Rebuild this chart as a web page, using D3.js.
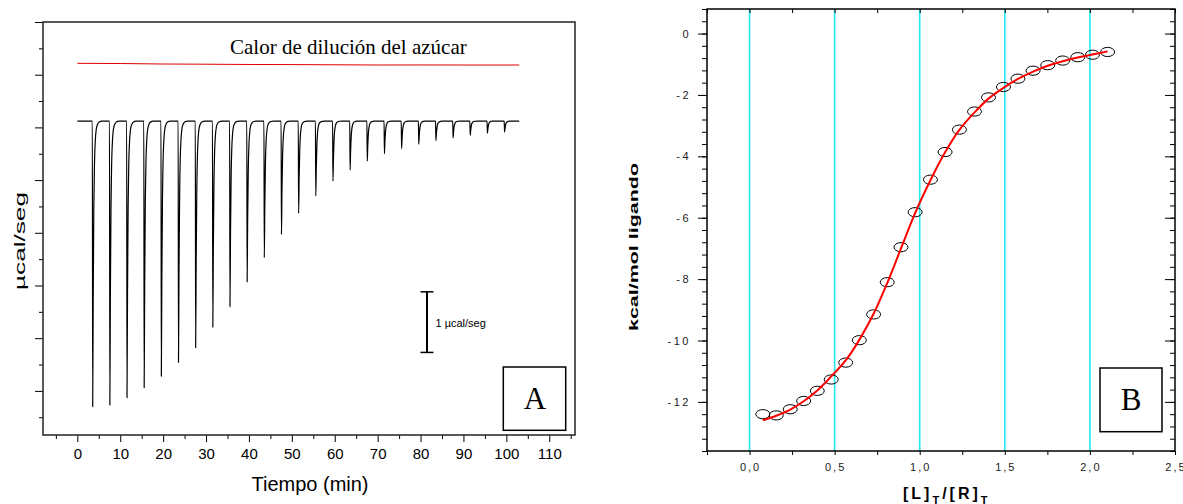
<!DOCTYPE html>
<html>
<head>
<meta charset="utf-8">
<script src="https://cdn.jsdelivr.net/npm/d3@7"></script>
<style>
  body { margin: 0; background: #fff; }
  svg { display: block; font-family: "Liberation Sans", Arial, sans-serif; }
  .axis path { display: none; }
  .axis line { stroke: #000; }
</style>
</head>
<body>
<div id="chart"></div>
<script>
// ---- Panel A data (ITC raw trace) ----
const injectionTimes = [3.5, 7.5, 11.5, 15.5, 19.5, 23.5, 27.5, 31.5, 35.5, 39.5, 43.5, 47.5,
  51.5, 55.5, 59.5, 63.5, 67.5, 71.5, 75.5, 79.5, 83.5, 87.5, 91.5, 95.5, 99.5];
const peakMin = [-5.30, -5.27, -5.13, -4.94, -4.72, -4.46, -4.18, -3.79, -3.40, -2.93, -2.47, -2.03,
  -1.63, -1.30, -1.02, -0.81, -0.64, -0.50, -0.40, -0.32, -0.25, -0.20, -0.15, -0.11, -0.09];
const baseline = 0.12;
const traceStart = 0, traceEnd = 103;
// shape of one injection peak: [minutes after injection, fraction of peak depth]
const peakShape = [[0, 0], [0.08, 1], [0.2, 0.62], [0.35, 0.3], [0.5, 0.15], [0.7, 0.066],
  [0.9, 0.03], [1.2, 0.012], [1.6, 0.003], [2.2, 0]];
// dilution reference trace (red)
const dilutionT = [0, 10, 20, 30, 40, 50, 60, 70, 80, 90, 103];
const dilutionV = [1.216, 1.212, 1.203, 1.199, 1.194, 1.192, 1.188, 1.184, 1.185, 1.184, 1.184];
const scaleBar = [-3.12, -4.27];

// ---- Panel B data (binding isotherm) ----
const ratio = [0.078, 0.157, 0.239, 0.318, 0.398, 0.480, 0.565, 0.645, 0.729, 0.809, 0.890, 0.973,
  1.063, 1.149, 1.233, 1.322, 1.404, 1.492, 1.577, 1.666, 1.752, 1.840, 1.929, 2.015, 2.104];
const heat = [-12.40, -12.44, -12.24, -11.97, -11.64, -11.27, -10.72, -9.99, -9.15, -8.10, -6.96, -5.82,
  -4.76, -3.86, -3.13, -2.54, -2.08, -1.74, -1.47, -1.21, -1.03, -0.88, -0.77, -0.69, -0.60];
const fit = [-12.60, -12.45, -12.25, -11.98, -11.63, -11.17, -10.65, -9.98, -9.13, -8.13, -7.00, -5.85,
  -4.78, -3.87, -3.14, -2.57, -2.12, -1.77, -1.48, -1.24, -1.05, -0.90, -0.78, -0.68, -0.58];
const xTicksB = [0, 0.5, 1, 1.5, 2, 2.5];
const yTicksB = [-12, -10, -8, -6, -4, -2, 0];

const svg = d3.select("#chart").append("svg")
  .attr("width", 1183).attr("height", 504);

// ================= Panel A =================
const xA = d3.scaleLinear().domain([-8, 116]).range([43, 575]);
const yA = d3.scaleLinear().domain([-5.837, 2]).range([435, 22]);

const a = svg.append("g");

// axes ticks
const xMajA = d3.range(0, 111, 10);
const xMinA = d3.range(-5, 116, 10);
a.append("g").attr("class", "axis").attr("transform", "translate(0,435)")
  .call(d3.axisBottom(xA).tickValues(xMinA).tickSize(4).tickFormat(""));
a.append("g").attr("class", "axis").attr("transform", "translate(0,435)")
  .call(d3.axisBottom(xA).tickValues(xMajA).tickSize(7).tickPadding(6).tickFormat(d3.format("d")))
  .selectAll("text").attr("font-size", 15).attr("fill", "#000");

const yMajA = d3.range(-5, 2.01, 1);
const yMinA = d3.range(-5.5, 2, 1);
a.append("g").attr("class", "axis").attr("transform", "translate(43,0)")
  .call(d3.axisLeft(yA).tickValues(yMajA).tickSize(8).tickFormat(""));
a.append("g").attr("class", "axis").attr("transform", "translate(43,0)")
  .call(d3.axisLeft(yA).tickValues(yMinA).tickSize(4).tickFormat(""));

a.append("rect").attr("x", 43).attr("y", 22).attr("width", 532).attr("height", 413)
  .attr("fill", "none").attr("stroke", "#222").attr("stroke-width", 1.5);

// build injection trace from peak list
const trace = [[traceStart, baseline]];
injectionTimes.forEach((t0, i) => {
  peakShape.forEach(([dt, f]) => trace.push([t0 + dt, baseline + (peakMin[i] - baseline) * f]));
});
trace.push([traceEnd, baseline]);

const lineA = d3.line().x(d => xA(d[0])).y(d => yA(d[1])).curve(d3.curveMonotoneX);
a.append("path").datum(trace).attr("d", lineA)
  .attr("fill", "none").attr("stroke", "#000").attr("stroke-width", 1.2);

a.append("path").datum(dilutionT.map((t, i) => [t, dilutionV[i]])).attr("d", lineA)
  .attr("fill", "none").attr("stroke", "#e00000").attr("stroke-width", 1);

a.append("text").attr("x", 230).attr("y", 54.3)
  .attr("font-family", "'Liberation Serif', 'Times New Roman', serif").attr("font-size", 21)
  .text("Calor de dilución del azúcar");

// scale bar
const sbX = xA(81.5);
a.append("line").attr("x1", sbX).attr("x2", sbX).attr("y1", yA(scaleBar[0])).attr("y2", yA(scaleBar[1]))
  .attr("stroke", "#000").attr("stroke-width", 2);
scaleBar.forEach(v => a.append("line").attr("x1", sbX - 6.5).attr("x2", sbX + 6.5)
  .attr("y1", yA(v)).attr("y2", yA(v)).attr("stroke", "#000").attr("stroke-width", 1.5));
a.append("text").attr("x", sbX + 8.5).attr("y", 327).attr("font-size", 11).text("1 µcal/seg");

a.append("rect").attr("x", 503.3).attr("y", 367).attr("width", 62.4).attr("height", 63.3)
  .attr("fill", "none").attr("stroke", "#000").attr("stroke-width", 1.5);
a.append("text").attr("x", 535).attr("y", 409).attr("text-anchor", "middle")
  .attr("font-family", "'Liberation Serif', 'Times New Roman', serif").attr("font-size", 31).text("A");

a.append("text").attr("x", 310).attr("y", 491).attr("text-anchor", "middle")
  .attr("font-size", 20).text("Tiempo (min)");
a.append("text").attr("transform", "translate(25,241) rotate(-90)").attr("text-anchor", "middle")
  .attr("font-size", 14).attr("textLength", 98).attr("lengthAdjust", "spacingAndGlyphs")
  .text("µcal/seg");

// ================= Panel B =================
const xB = d3.scaleLinear().domain([-0.25, 2.5]).range([707, 1175]);
const yB = d3.scaleLinear().domain([-13.6, 0.8]).range([451, 9]);
const b = svg.append("g");

// cyan grid
b.selectAll(".grid").data(xTicksB.filter(d => d < 2.5)).join("line")
  .attr("x1", d => xB(d)).attr("x2", d => xB(d)).attr("y1", 9).attr("y2", 451)
  .attr("stroke", "#22e8f0").attr("stroke-width", 1.6);

const xQuarter = d3.range(-0.25, 2.51, 0.25);
b.append("g").attr("class", "axis").attr("transform", "translate(0,451)")
  .call(d3.axisBottom(xB).tickValues(xQuarter).tickSize(4).tickFormat(""));
b.append("g").attr("class", "axis").attr("transform", "translate(0,9)")
  .call(d3.axisBottom(xB).tickValues(xQuarter).tickSize(4).tickFormat(""));

const yMinB = d3.range(-13.6, 0.81, 0.4);
b.append("g").attr("class", "axis").attr("transform", "translate(707,0)")
  .call(d3.axisLeft(yB).tickValues(yMinB).tickSize(5).tickFormat(""));
b.append("g").attr("class", "axis").attr("transform", "translate(707,0)")
  .call(d3.axisLeft(yB).tickValues(yTicksB).tickSize(9).tickFormat(""));
b.append("g").attr("class", "axis").attr("transform", "translate(1175,0)")
  .call(d3.axisLeft(yB).tickValues(yMinB).tickSize(5).tickFormat(""));
b.append("g").attr("class", "axis").attr("transform", "translate(1175,0)")
  .call(d3.axisLeft(yB).tickValues(yTicksB).tickSize(10).tickFormat(""));

b.append("rect").attr("x", 707).attr("y", 9).attr("width", 468).attr("height", 442)
  .attr("fill", "none").attr("stroke", "#000").attr("stroke-width", 1.5);

// tick labels
b.selectAll(".xl").data(xTicksB).join("text")
  .attr("x", d => xB(d) + 1).attr("y", 470.5).attr("text-anchor", "middle")
  .attr("font-size", 11).attr("letter-spacing", 2).attr("fill", "#222")
  .text(d => d3.format(".1f")(d).replace(".", ","));
b.selectAll(".yl").data(yTicksB).join("text")
  .attr("x", 691).attr("y", d => yB(d) + 4).attr("text-anchor", "end")
  .attr("font-size", 11).attr("letter-spacing", 2.5).attr("fill", "#222")
  .text(d => d3.format("d")(d).replace("−", "-"));

// data points and fit
b.selectAll(".pt").data(ratio).join("ellipse")
  .attr("cx", d => xB(d)).attr("cy", (d, i) => yB(heat[i])).attr("rx", 7).attr("ry", 4.6)
  .attr("fill", "none").attr("stroke", "#000").attr("stroke-width", 1);

b.append("path").datum(ratio.map((r, i) => [r, fit[i]]))
  .attr("d", d3.line().x(d => xB(d[0])).y(d => yB(d[1])).curve(d3.curveCatmullRom))
  .attr("fill", "none").attr("stroke", "#ff0000").attr("stroke-width", 2);

b.append("rect").attr("x", 1100).attr("y", 368).attr("width", 62).attr("height", 63.7)
  .attr("fill", "none").attr("stroke", "#000").attr("stroke-width", 1.5);
b.append("text").attr("x", 1131).attr("y", 409.5).attr("text-anchor", "middle")
  .attr("font-family", "'Liberation Serif', 'Times New Roman', serif").attr("font-size", 31).text("B");

const xl = b.append("text").attr("x", 903).attr("y", 499)
  .attr("font-size", 16).attr("font-weight", "bold").attr("letter-spacing", 3);
xl.append("tspan").text("[L]");
xl.append("tspan").attr("font-size", 11).attr("dy", 5).text("T");
xl.append("tspan").attr("dy", -5).text("/[R]");
xl.append("tspan").attr("font-size", 11).attr("dy", 5).text("T");

b.append("text").attr("transform", "translate(638,247) rotate(-90)").attr("text-anchor", "middle")
  .attr("font-size", 12).attr("font-weight", "bold")
  .attr("textLength", 168).attr("lengthAdjust", "spacingAndGlyphs")
  .text("kcal/mol ligando");
</script>
</body>
</html>
